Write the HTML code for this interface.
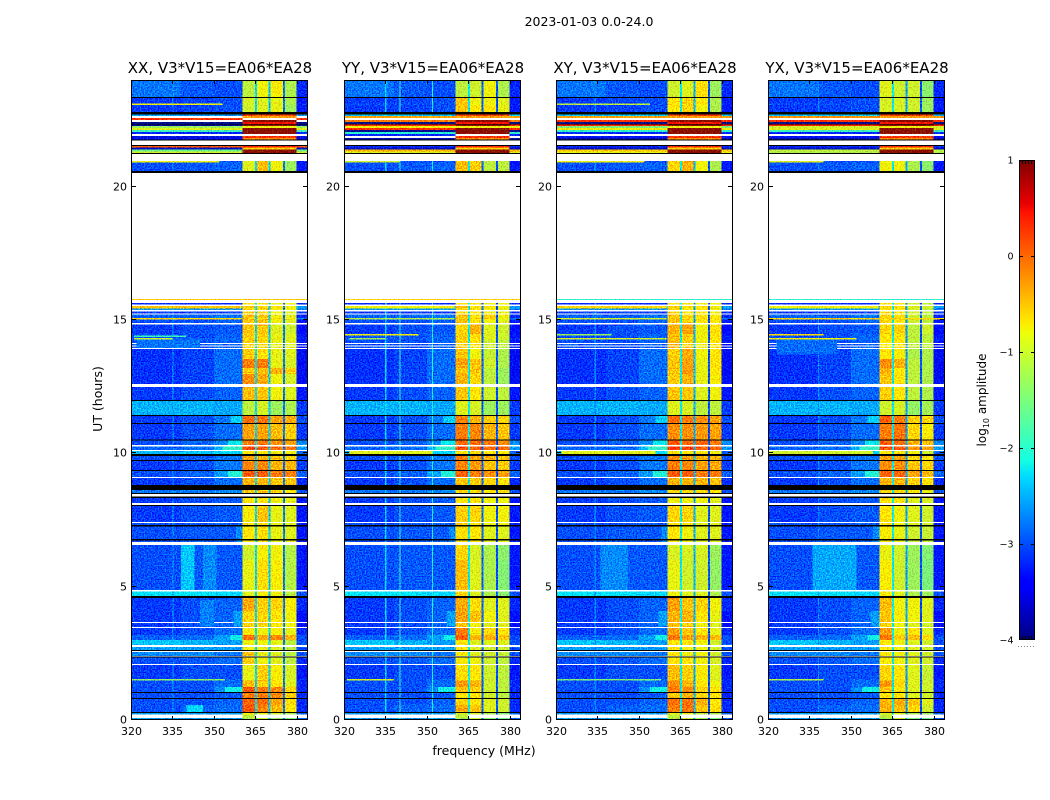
<!DOCTYPE html>
<html lang="en">
<head>
<meta charset="utf-8">
<title>2023-01-03 0.0-24.0</title>
<style>
html,body{margin:0;padding:0;background:#fff;width:1050px;height:800px;overflow:hidden}
svg{display:block;font-family:"DejaVu Sans","Liberation Sans",sans-serif;fill:#000}
</style>
</head>
<body>
<svg id="figure" xmlns="http://www.w3.org/2000/svg" width="1050" height="800" viewBox="0 0 1050 800">
  <defs>
    <filter id="speckle" filterUnits="userSpaceOnUse" x="0" y="0" width="1050" height="800" color-interpolation-filters="sRGB">
      <feTurbulence type="fractalNoise" baseFrequency="0.72" numOctaves="1" seed="4" result="n"/>
      <feColorMatrix in="n" type="matrix" values="0 0 0 0 0.5  3 0 0 0 -1  0 0 0 0 0.5  0 0 0 0 1" result="g"/>
      <feComposite in="SourceGraphic" in2="g" operator="arithmetic" k1="0" k2="1" k3="0.5" k4="-0.25" result="c"/>
      <feComposite in="c" in2="SourceAlpha" operator="in"/>
    </filter>
    <linearGradient id="jet" x1="0" y1="1" x2="0" y2="0">
      <stop offset="0" stop-color="rgb(0,0,127)"/>
      <stop offset="0.11" stop-color="rgb(0,0,255)"/>
      <stop offset="0.125" stop-color="rgb(0,0,255)"/>
      <stop offset="0.34" stop-color="rgb(0,219,255)"/>
      <stop offset="0.375" stop-color="rgb(21,255,226)"/>
      <stop offset="0.64" stop-color="rgb(238,255,8)"/>
      <stop offset="0.66" stop-color="rgb(255,236,0)"/>
      <stop offset="0.89" stop-color="rgb(255,19,0)"/>
      <stop offset="0.91" stop-color="rgb(232,0,0)"/>
      <stop offset="1" stop-color="rgb(127,0,0)"/>
    </linearGradient>
  </defs>
  <text x="589" y="26" font-size="12.5" text-anchor="middle">2023-01-03 0.0-24.0</text>
  <text x="484" y="755" font-size="12.5" text-anchor="middle">frequency (MHz)</text>
  <text transform="translate(102,399) rotate(-90)" font-size="12.5" text-anchor="middle">UT (hours)</text>
  <g id="panels"></g>
  <g id="colorbar">
    <rect x="1019" y="160" width="16" height="480" fill="url(#jet)"/>
  </g>
  <text transform="translate(986,400) rotate(-90)" font-size="12" text-anchor="middle">log<tspan font-size="8" dy="3">10</tspan><tspan dy="-3"> amplitude</tspan></text>
</svg>
<script>
// ---- shared axis values ----
const xTicks = [320, 335, 350, 365, 380];
const yTicks = [0, 5, 10, 15, 20];
const colorTicks = [1, 0, -1, -2, -3, -4];
const freqColumns = [320, 338, 350, 360.4];
const bandEdges = [[360.4, 364.8], [365.5, 369.8], [370.5, 374.9], [375.6, 379.9]];
const gapEdges = [[364.8, 365.5], [369.8, 370.5], [374.9, 375.6]];
const rightColumn = [379.9, 384];

// time rows [top hour, bottom hour]; anything not covered stays white (flagged)
const rowHours = [
[24,23.36],[23.36,23.12],[23.12,23.06],[23.06,22.8],[20.96,20.91],[20.91,20.59],
[15.79,15.75],[15.64,15.58],[15.53,15.43],[15.43,15.38],[15.31,15.24],[15.21,15.08],[15.08,15.02],[15.02,14.89],
[14.84,14.48],[14.48,14.42],[14.42,14.33],[14.33,14.27],[14.27,14.14],[14.1,14.04],[14,13.95],
[13.91,13.54],[13.54,13.2],[13.2,12.98],[12.98,12.6],[12.49,12],[12,11.44],[11.44,11.14],[11.14,10.5],
[10.5,10.31],[10.26,10.13],[10.09,9.98],[9.9,9.75],[9.75,9.38],[9.38,9.11],[9.08,8.81],[8.63,8.51],[8.36,8.14],
[8.03,7.43],[7.39,7.31],[7.28,6.68],[6.56,6],[6,4.88],[4.82,4.65],[4.58,4.09],[4.09,3.68],[3.64,3.49],[3.45,3.19],
[3.19,3],[3,2.81],[2.74,2.63],[2.55,2.4],[2.36,2.1],[2.06,1.54],[1.54,1.48],[1.48,1.24],[1.24,1.05],[1.05,0.83],
[0.83,0.56],[0.56,0.3],[0.3,0.21],[0.08,0]];

// background level per row: [320-338, 338-350, 350-360.4, 380-384 MHz]
const backgroundLevels = [
[-2.8,-2.95,-3,-3.2],[-3.1,-3.05,-3,-3.3],[-3,-3,-3,-3.2],[-3.1,-3.05,-3,-3.3],[-3,-3,-3,-3.3],[-3,-2.95,-2.9,-3.3],
[-2.2,-2.2,-2.2,-2.2],[-3.2,-3.2,-3.2,-3.2],[-2.5,-2.5,-2.5,-2.6],[-2.6,-2.6,-2.6,-2.8],[-3.1,-3.1,-3.1,-3.2],[-2.9,-2.9,-2.8,-3.2],[-2.6,-2.6,-2.6,-2.8],[-3,-3,-2.9,-3.3],
[-3.1,-3,-2.95,-3.4],[-3,-3,-2.9,-3.3],[-3,-3,-2.9,-3.3],[-2.9,-2.9,-2.85,-3.2],[-3,-3,-2.9,-3.3],[-3,-3,-2.9,-3.3],[-3,-3,-2.9,-3.3],
[-3.15,-3.05,-2.85,-3.5],[-3.15,-3.05,-2.85,-3.5],[-3.15,-3.05,-2.85,-3.5],[-3.15,-3.05,-2.85,-3.5],[-3.1,-3,-2.9,-3.3],[-2.5,-2.5,-2.55,-3.1],[-3.1,-3,-2.8,-3],[-3.1,-3,-2.85,-3.1],
[-3,-2.9,-2.7,-2.7],[-2.9,-2.85,-2.5,-2.6],[-2.5,-2.4,-2.3,-2.9],[-3,-2.95,-2.8,-3],[-3.1,-3,-2.8,-3.1],[-3,-2.9,-2.6,-2.9],[-3.1,-3,-2.85,-3.2],[-2.8,-2.8,-2.7,-3],[-3.1,-3,-2.95,-3.3],
[-3.1,-3,-2.95,-3.3],[-3,-3,-2.95,-3.3],[-3,-2.95,-2.95,-3.3],[-3,-2.95,-2.95,-3.3],[-3,-2.95,-2.95,-3.3],[-2.25,-2.25,-2.3,-3],[-3.1,-3,-2.9,-3.2],[-3.1,-3,-2.9,-3.4],[-3.1,-3,-2.9,-3.4],[-3.1,-3,-2.85,-3.2],
[-2.9,-2.85,-2.6,-3],[-2.4,-2.5,-2.6,-3],[-2.6,-2.6,-2.6,-3],[-2.7,-2.7,-2.8,-3],[-3,-2.95,-2.85,-3.2],[-3.1,-3,-3,-3.3],[-3,-3,-2.9,-3.2],[-3,-3,-2.85,-3.2],[-3,-3,-2.7,-3.2],[-3,-3,-2.95,-3.2],
[-3,-3,-2.9,-3.2],[-3,-2.9,-2.85,-3.2],[-2.6,-2.6,-2.6,-2.9],[-2.6,-2.6,-2.6,-2.9]];

// level of each of the four frequency bands, per row, per correlation
const xxBands = [
[-1.1,-.8,-.75,-1.2],[-.95,-.9,-.85,-1.2],[-.95,-.9,-.85,-1.2],[-1,-.9,-.85,-1.3],[-.9,-.5,-.8,-1.3],[-.9,-.45,-.8,-1.3],
[-.5,-.5,-.5,-.5],[-.7,-.7,-.8,-.8],[-.55,-.6,-.7,-.8],[-.6,-.6,-.8,-.8],[-.6,-.6,-.8,-.9],[-.5,-.5,-.8,-.9],[-.5,-.6,-.6,-.7],[-.5,-.5,-.8,-.9],
[-.5,-.5,-.9,-1],[-.55,-.6,-.85,-.9],[-.55,-.6,-.85,-.9],[-.55,-.6,-.85,-.9],[-.55,-.6,-.85,-.9],[-.55,-.6,-.85,-.9],[-.55,-.6,-.85,-.9],
[-.55,-.65,-.85,-.9],[-.1,-.1,-.85,-.95],[-.55,-.45,-.4,-.55],[-.2,-.35,-.8,-.95],[-.45,-.5,-.8,-.9],[-1.1,-.95,-1.3,-1.2],[0,-.05,-.3,-.35],[-.3,-.3,-.45,-.55],
[-.1,-.1,-.25,-.3],[.15,.1,-.05,-.05],[-.7,-.7,-.8,-.8],[-.3,-.4,-.5,-.6],[-.15,-.15,-.4,-.4],[.1,.05,-.1,-.15],[-.4,-.4,-.5,-.5],[-.5,-.5,-.6,-.7],[-.7,-.7,-.8,-.85],
[-.75,-.5,-.85,-.9],[-.7,-.7,-.85,-.9],[-.7,-.65,-.85,-.9],[-1,-.75,-.8,-1.15],[-.85,-.65,-.75,-1.15],[-.9,-.75,-.8,-1.1],[-.35,-.55,-.6,-.75],[-.6,-.6,-.7,-.8],[-.6,-.6,-.7,-.8],[-.75,-.8,-.75,-.85],
[-.05,-.35,-.15,-.4],[-.8,-.8,-.85,-1.1],[-.8,-.85,-.9,-1.1],[-.5,-.85,-.9,-1.1],[-.55,-.8,-.9,-1.1],[-.85,-.55,-.75,-.95],[-.85,-.55,-.75,-.95],[-.45,-.55,-.7,-.9],[.1,-.1,-.15,-.6],[-.1,-.1,-.2,-.55],
[.05,0,-.3,-.65],[.1,-.15,-.45,-.7],[-.7,-.8,-1,-1.2],[-1.2,-1,-1.3,-1.5]];
const yyBands = [
[-1.1,-1,-.8,-1.2],[-.5,-.8,-.8,-.9],[-.5,-.8,-.8,-.9],[-.5,-.7,-.7,-.85],[-.5,-.55,-1.1,-1.1],[-.45,-.55,-1.1,-1.1],
[-.5,-.5,-.5,-.5],[-.7,-.7,-.8,-.8],[-.5,-.7,-.7,-.8],[-.6,-.7,-.8,-.9],[-.6,-.7,-.8,-.8],[-.5,-.7,-.6,-.8],[-.5,-.6,-.6,-.8],[-.5,-.7,-.8,-.9],
[-.6,-.4,-.9,-1],[-.55,-.65,-.9,-1],[-.55,-.65,-.9,-1],[-.55,-.65,-.9,-1],[-.55,-.7,-1,-1.1],[-.55,-.7,-1,-1.1],[-.55,-.7,-1,-1.1],
[-.5,-.8,-1.05,-1.2],[-.3,-.5,-1,-1.2],[-.5,-.5,-1.1,-1.3],[-.4,-.6,-1.1,-1.3],[-.5,-.7,-1,-1.1],[-.9,-.95,-1.3,-1.3],[-.1,-.4,-.55,-.6],[-.1,-.15,-.4,-.5],
[0,0,-.1,-.2],[.15,.1,0,0],[-.7,-.6,-.7,-.7],[-.1,-.3,-.4,-.5],[-.15,-.25,-.5,-.55],[.05,-.1,-.2,-.3],[-.5,-.55,-.6,-.7],[-.6,-.6,-.7,-.7],[-.7,-.7,-.8,-.8],
[-.55,-.6,-.8,-.8],[-.6,-.7,-.8,-.8],[-.65,-.7,-.9,-.9],[-.6,-.95,-1.2,-1.4],[-.45,-.9,-1.2,-1.45],[-.6,-.9,-1.2,-1.4],[-.35,-.65,-.9,-.9],[-.3,-.5,-.8,-.9],[-.5,-.8,-.9,-.9],[-.1,-.75,-.6,-.7],
[.05,-.4,-.4,-.5],[-.7,-.9,-.9,-.9],[-.7,-.9,-1,-1],[-.75,-.9,-1,-1.05],[-.75,-.8,-1,-1.1],[-.65,-.7,-1,-1.1],[-.65,-.8,-1,-1.1],[-.25,-.4,-1,-1.1],[-.5,-.6,-1,-1.1],[-.7,-.7,-1,-1.1],
[-.6,-.7,-.9,-1],[-.35,-.5,-.9,-1],[-.9,-.9,-1.2,-1.4],[-1.3,-1,-1.4,-1.6]];
const xyBands = [
[-1,-.9,-.65,-1.3],[-.7,-.6,-.7,-1.2],[-.7,-.6,-.7,-1.2],[-.7,-.6,-.8,-1.2],[-.6,-.4,-.8,-1.2],[-.6,-.4,-.8,-1.2],
[-.8,-.8,-.8,-.8],[-.7,-.7,-.8,-.8],[-.55,-.65,-.7,-.8],[-.6,-.7,-.7,-.8],[-.6,-.7,-.7,-.8],[-.5,-.6,-.7,-.7],[-.5,-.6,-.7,-.7],[-.5,-.6,-.7,-.7],
[-.4,-.3,-.8,-.65],[-.45,-.55,-.8,-.7],[-.45,-.55,-.8,-.7],[-.45,-.55,-.8,-.7],[-.45,-.55,-.8,-.7],[-.45,-.55,-.8,-.7],[-.45,-.55,-.8,-.7],
[-.55,-.35,-.8,-.7],[-.5,-.3,-.85,-.7],[-.5,-.25,-.85,-.7],[-.55,-.4,-.85,-.75],[-.5,-.5,-.9,-.8],[-.9,-.95,-1.1,-1.1],[0,-.1,-.2,-.3],[-.2,-.2,-.25,-.3],
[.1,0,0,-.1],[.25,.2,.05,.05],[-.7,-.7,-.7,-.8],[-.2,-.3,-.4,-.4],[-.1,-.15,-.3,-.35],[.1,.05,-.1,-.1],[-.4,-.4,-.4,-.5],[-.6,-.6,-.6,-.7],[-.8,-.8,-.8,-.9],
[-.6,-.6,-.9,-.9],[-.7,-.7,-.9,-.9],[-.7,-.8,-.9,-.9],[-.95,-.95,-.95,-1.3],[-.85,-1,-1,-1.35],[-.8,-.9,-.9,-1.2],[-.3,-.5,-.6,-.8],[-.4,-.4,-.7,-.85],[-.5,-.6,-.8,-.9],[-.3,-.5,-.7,-.85],
[-.05,-.3,-.4,-.45],[-.7,-.7,-.8,-1],[-.7,-.8,-.8,-1],[-.7,-.8,-.8,-1],[-.7,-.7,-.8,-.95],[-.45,-.55,-.75,-.9],[-.5,-.6,-.8,-.95],[-.2,-.4,-.7,-.8],[-.1,-.2,-.6,-.7],[-.5,-.4,-.6,-.7],
[-.05,-.05,-.4,-.7],[-.1,-.05,-.5,-.65],[-.8,-.8,-1.1,-1.2],[-1.2,-1,-1.3,-1.5]];
const yxBands = [
[-.9,-1,-1,-1.4],[-.95,-.95,-1,-1.3],[-.95,-.95,-1,-1.3],[-.95,-.95,-1,-1.3],[-.8,-.8,-1.2,-1.4],[-.8,-.8,-1.2,-1.4],
[-.9,-.9,-.9,-.9],[-.7,-.7,-1,-1.1],[-.6,-.65,-.9,-1],[-.7,-.7,-1,-1.1],[-.7,-.7,-1,-1.1],[-.6,-.65,-1,-1.1],[-.5,-.6,-.9,-1],[-.6,-.7,-1,-1.1],
[-.6,-.55,-1.1,-1],[-.7,-.7,-1.1,-1.1],[-.7,-.7,-1.1,-1.1],[-.7,-.7,-1.1,-1.1],[-.7,-.7,-1.1,-1.1],[-.7,-.7,-1.1,-1.1],[-.7,-.7,-1.1,-1.1],
[-.7,-.75,-1.2,-1.2],[-.2,-.4,-1.1,-1.2],[-.4,-.7,-1.1,-1.2],[-.5,-.7,-1.1,-1.2],[-.55,-.7,-1.1,-1.2],[-1,-.95,-1.35,-1.25],[.05,-.1,-.55,-.6],[-.1,-.05,-.6,-.75],
[.05,0,-.4,-.5],[.1,.1,-.2,-.3],[-.7,-.7,-.8,-1],[-.3,-.3,-.6,-.7],[-.2,-.2,-.5,-.6],[.05,0,-.3,-.45],[-.4,-.4,-.6,-.7],[-.6,-.6,-.75,-.85],[-.7,-.7,-.9,-.95],
[-.7,-.8,-.9,-1],[-.7,-.8,-.9,-1],[-.75,-.85,-1,-1.05],[-.85,-1,-1.3,-1.45],[-.75,-1,-1.3,-1.5],[-.75,-.9,-1.2,-1.3],[-.45,-.8,-.8,-.9],[-.5,-.75,-.8,-.9],[-.6,-.8,-.9,-1],[-.3,-.8,-.7,-.9],
[-.1,-.55,-.45,-.65],[-.7,-.8,-.9,-1],[-.7,-.8,-.9,-1],[-.75,-.8,-.9,-1],[-.75,-.8,-.9,-1],[-.6,-.7,-.9,-1.05],[-.6,-.7,-.9,-1.05],[-.25,-.6,-.9,-1],[-.5,-.7,-.9,-1],[-.7,-.7,-.9,-1],
[-.4,-.35,-.5,-.9],[-.4,-.45,-.6,-1],[-.9,-.9,-1.2,-1.3],[-1.3,-1,-1.5,-1.6]];

// level in the three narrow notches between the bands
const xxGaps = [-2.3, -2.4, -2.8];
const yyGaps = [-2.2, -2.9, -3];
const xyGaps = [-2.2, -2.5, -3];
const yxGaps = [-2.2, -2.6, -3];

// saturated stripes between 21 and 23 h: [top hour, bottom hour]
const stripeHours = [[22.71,22.65],[22.65,22.58],[22.58,22.5],[22.5,22.43],[22.43,22.35],[22.35,22.28],[22.28,22.2],[22.2,22.13],[22.13,22.05],[22.05,21.98],[21.98,21.9],[21.9,21.83],[21.83,21.73],[21.54,21.47],[21.47,21.39],[21.39,21.32],[21.32,21.24]];
const stripeBandLevels = [.2,-.3,null,.95,.5,.95,-.8,.95,.95,.95,null,.3,-.2,.4,-.6,.95,.95];
const xxStripes = [-2.6,null,.3,null,-3.95,-3.9,-1.3,-.9,-1.9,-3.2,null,-3.6,-3.5,.1,-3.7,-1.6,-1];
const yyStripes = [-2.4,-.3,null,-.1,-3.95,.3,-.8,.3,-3.9,-2,-3.2,null,-3.8,-3.2,-3.7,-.4,-.9];
const xyStripes = [-2.4,-.3,null,.3,-3.95,.4,-1.5,-.8,-2,-3.2,null,-3.5,-3.8,-3.2,-3.7,-.5,-.85];
const yxStripes = [-2.4,-.2,null,.3,-3.95,.4,-1,-.9,-1.9,-3.2,null,-3.5,-3.8,-3.2,-3.7,-1.1,-1.2];

// edge fans next to the first band, shared: [top hour, bottom hour, start MHz, end MHz, level]
const fanFeatures = [[11.44,11.14,356,360.4,-2.35],[10.5,10.31,355,360.4,-2.2],[10.26,10.13,353,360.4,-1.95],[9.38,9.11,355,360.4,-2.05],[3.19,3,356,360.4,-2.15],[1.24,1.05,354,360.4,-2.15],[4.09,3.5,357,360.4,-2.6],[7.28,6.68,358,360.4,-2.7]];

// local features: [top hour, bottom hour, start MHz, end MHz, level]
const xxFeatures = [
[23.12,23.06,320,353,-.8],[20.96,20.91,320,352,-.8],[15.79,15.75,320,384,-.5],[15.53,15.43,320,360,-.5],[15.08,15.02,320,360,-.6],[14.42,14.36,321,340,-1.9],[14.33,14.27,321,335,-1],
[14.27,13.95,322,345,-2.8],[6.56,4.88,338,343,-2.4],[6.56,4.88,346,351,-2.7],[4.5,3.5,345,350,-2.75],[1.54,1.48,320,354,-1.4],[.56,.3,340,346,-2.3],[.21,.08,360.4,364.8,-1.1]];
const yyFeatures = [
[20.96,20.91,320,340,-1],[15.79,15.75,320,384,-.55],[15.53,15.43,320,360,-.8],[15.08,15.02,320,360,-1.2],[14.48,14.42,320,347,-.8],[14.33,14.27,322,335,-1.3],[10.09,9.98,322,352,-.9],[1.54,1.48,321,338,-1],[.21,.08,360.4,364.8,-1.1]];
const xyFeatures = [
[23.12,23.06,320,354,-1.1],[20.96,20.91,320,352,-.8],[15.79,15.75,320,384,-2],[15.53,15.43,320,360,-.6],[15.08,15.02,320,360,-1],[14.48,14.42,320,340,-1.3],[14.33,14.27,320,360,-1],[10.09,9.98,322,356,-.9],[6.56,4.88,336,346,-2.7],[1.54,1.48,320,358,-1.5],[.21,.08,360.4,364.8,-1.1]];
const yxFeatures = [
[15.79,15.75,320,384,-2],[15.53,15.43,320,360,-.8],[15.08,15.02,320,384,-.6],[14.48,14.42,320,340,-.6],[14.33,14.27,320,352,-.8],[14.27,13.7,323,345,-2.85],[20.96,20.91,320,340,-.9],[10.09,9.98,320,358,-1],[6.56,4.88,336,352,-2.55],[1.54,1.48,320,340,-1.2],[.21,.08,360.4,364.8,-1.1]];

// single hot channels seen through all rows: [MHz, level]
const xxChannels = [[335,-2.6]];
const yyChannels = [[334.9,-2.3],[340,-1.9],[351.8,-2.1]];
const xyChannels = [[334,-2.7]];
const yxChannels = [[338,-2.7]];

// fully flagged (black) integrations: [top hour, bottom hour]
const blackFlags = [[23.36,23.33],[22.8,22.71],[22.34,22.31],[21.77,21.73],[21.56,21.53],[21.26,21.23],[20.59,20.52],[12,11.96],[11.44,11.4],[11.14,11.1],[10.52,10.48],[9.98,9.9],[9.75,9.71],[9.38,9.34],[8.81,8.63],[8.51,8.48],[8.38,8.33],[8.06,8.03],[7.31,7.26],[6.79,6.73],[4.65,4.58],[2.63,2.59],[2.38,2.34],[1.05,1.01],[.83,.79],[.3,.26]];

const panelTitles = ['XX, V3*V15=EA06*EA28','YY, V3*V15=EA06*EA28','XY, V3*V15=EA06*EA28','YX, V3*V15=EA06*EA28'];
const panelKeys = ['xx','yy','xy','yx'];
const panelBands = [xxBands, yyBands, xyBands, yxBands];
const panelGaps = [xxGaps, yyGaps, xyGaps, yxGaps];
const panelStripes = [xxStripes, yyStripes, xyStripes, yxStripes];
const panelFeatures = [xxFeatures, yyFeatures, xyFeatures, yxFeatures];
const panelChannels = [xxChannels, yyChannels, xyChannels, yxChannels];

// ---- layout ----
const SVGNS = 'http://www.w3.org/2000/svg';
const axesLeft = [131, 344, 556, 768];
const axesWidth = 177, axesTop = 80, axesBottom = 720;
const hourScale = h => axesBottom - h * (axesBottom - axesTop) / 24;
const freqScale = (left, f) => left + (f - 320) * axesWidth / 64;
const colorScale = v => 640 - (v + 4) * 96;

const jetR = [[0,0],[.35,0],[.66,1],[.89,1],[1,.5]];
const jetG = [[0,0],[.125,0],[.375,1],[.64,1],[.91,0],[1,0]];
const jetB = [[0,.5],[.11,1],[.34,1],[.65,0],[1,0]];
function interp(k, t) {
  for (let i = 1; i < k.length; i++) {
    if (t <= k[i][0]) {
      return k[i-1][1] + (k[i][1] - k[i-1][1]) * (t - k[i-1][0]) / (k[i][0] - k[i-1][0]);
    }
  }
  return k[k.length-1][1];
}
function jet(v) {
  const t = Math.max(0, Math.min(1, (v + 4) / 5));
  return 'rgb(' + Math.round(interp(jetR,t)*255) + ',' + Math.round(interp(jetG,t)*255) + ',' + Math.round(interp(jetB,t)*255) + ')';
}
function cell(parent, name, left, f0, f1, h0, h1, color) {
  const el = document.createElementNS(SVGNS, 'rect');
  
  
  const x0 = freqScale(left, f0), x1 = freqScale(left, f1), y0 = hourScale(h0), y1 = hourScale(h1);
  el.setAttribute('x', x0.toFixed(2));
  el.setAttribute('y', y0.toFixed(2));
  el.setAttribute('width', (x1 - x0).toFixed(2));
  el.setAttribute('height', (y1 - y0).toFixed(2));
  el.setAttribute('fill', color);
  el.setAttribute('shape-rendering', 'crispEdges');
  parent.appendChild(el);
}
function line(parent, name, x1, y1, x2, y2) {
  const el = document.createElementNS(SVGNS, 'line');
  
  
  el.setAttribute('x1', x1);
  el.setAttribute('y1', y1);
  el.setAttribute('x2', x2);
  el.setAttribute('y2', y2);
  el.setAttribute('stroke', '#000');
  el.setAttribute('stroke-width', '1');
  parent.appendChild(el);
}
function label(parent, name, x, y, str, size, anchor) {
  const el = document.createElementNS(SVGNS, 'text');
  
  
  el.setAttribute('x', x);
  el.setAttribute('y', y);
  el.setAttribute('font-size', size);
  el.setAttribute('text-anchor', anchor);
  el.textContent = str;
  parent.appendChild(el);
}
function group(parent, name) {
  const el = document.createElementNS(SVGNS, 'g');
  
  
  parent.appendChild(el);
  return el;
}

const panelsRoot = document.getElementById('panels');
panelKeys.forEach((key, p) => {
  const left = axesLeft[p];
  const right = left + axesWidth;
  const g = group(panelsRoot, key + '-panel');
  const heat = group(g, key + '-heatmap');
  heat.setAttribute('filter', 'url(#speckle)');

  rowHours.forEach((row, r) => {
    const bg = backgroundLevels[r];
    const bands = panelBands[p][r];
    const [h0, h1] = row;
    cell(heat, key + '-cell', left, freqColumns[0], freqColumns[1], h0, h1, jet(bg[0]));
    cell(heat, key + '-cell', left, freqColumns[1], freqColumns[2], h0, h1, jet(bg[1]));
    cell(heat, key + '-cell', left, freqColumns[2], freqColumns[3], h0, h1, jet(bg[2]));
    cell(heat, key + '-cell', left, rightColumn[0], rightColumn[1], h0, h1, jet(bg[3]));
    bandEdges.forEach((e, b) => {
      cell(heat, key + '-band-cell', left, e[0], e[1], h0, h1, jet(bands[b]));
    });
    gapEdges.forEach((e, b) => {
      cell(heat, key + '-gap-cell', left, e[0], e[1], h0, h1, jet(panelGaps[p][b]));
    });
    panelChannels[p].forEach(c => {
      cell(heat, key + '-channel-cell', left, c[0], c[0] + 0.45, h0, h1, jet(c[1]));
    });
  });

  stripeHours.forEach((s, i) => {
    const lv = panelStripes[p][i];
    const bandLv = stripeBandLevels[i];
    if (lv !== null) {
      cell(heat, key + '-stripe-cell', left, 320, freqColumns[3], s[0], s[1], jet(lv));
      cell(heat, key + '-stripe-cell', left, rightColumn[0], rightColumn[1], s[0], s[1], jet(lv));
    }
    if (bandLv !== null) {
      cell(heat, key + '-stripe-band-cell', left, freqColumns[3], rightColumn[0], s[0], s[1], jet(bandLv));
    }
  });

  fanFeatures.forEach(f => {
    cell(heat, key + '-fan-cell', left, f[2], f[3], f[0], f[1], jet(f[4]));
  });
  panelFeatures[p].forEach(f => {
    cell(heat, key + '-feature-cell', left, f[2], f[3], f[0], f[1], jet(f[4]));
  });

  blackFlags.forEach(b => {
    cell(g, key + '-flag-line', left, 320, 384, b[0], b[1], '#000');
  });

  const frame = document.createElementNS(SVGNS, 'rect');
  
  
  frame.setAttribute('x', left + 0.5);
  frame.setAttribute('y', axesTop + 0.5);
  frame.setAttribute('width', axesWidth - 1);
  frame.setAttribute('height', axesBottom - axesTop - 1);
  frame.setAttribute('fill', 'none');
  frame.setAttribute('stroke', '#000');
  g.appendChild(frame);

  xTicks.forEach(t => {
    const x = Math.round(freqScale(left, t)) + 0.5;
    line(g, key + '-x-tick', x, axesBottom, x, axesBottom - 4);
    line(g, key + '-x-tick-top', x, axesTop, x, axesTop + 4);
    label(g, key + '-x-tick-label', x, axesBottom + 15, String(t), 11, 'middle');
  });
  yTicks.forEach(t => {
    const y = Math.round(hourScale(t)) - 0.5;
    line(g, key + '-y-tick', left, y, left + 5, y);
    line(g, key + '-y-tick-right', right, y, right - 5, y);
    label(g, key + '-y-tick-label', left - 4, y + 4, String(t), 11, 'end');
  });
  label(g, key + '-panel-title', left + axesWidth / 2 + 0.5, 73, panelTitles[p], 15, 'middle');
});

// ---- colorbar ----
const cbar = document.getElementById('colorbar');
const frameCb = document.createElementNS(SVGNS, 'rect');


frameCb.setAttribute('x', 1019.5);
frameCb.setAttribute('y', 160.5);
frameCb.setAttribute('width', 15);
frameCb.setAttribute('height', 479);
frameCb.setAttribute('fill', 'none');
frameCb.setAttribute('stroke', '#000');
cbar.appendChild(frameCb);
colorTicks.forEach(t => {
  const y = colorScale(t);
  if (t < 1 && t > -4) {
    line(cbar, 'colorbar-tick', 1019, y + 0.5, 1023, y + 0.5);
    line(cbar, 'colorbar-tick', 1031, y + 0.5, 1035, y + 0.5);
  }
  label(cbar, 'colorbar-tick-label', 1013.5, y + 3.5, t < 0 ? '\u2212' + Math.abs(t) : String(t), 9.5, 'end');
});
const minorOffsets = [1022, 1025, 1028, 1031];
minorOffsets.forEach(x => {
  line(cbar, 'colorbar-end-tick', x + 0.5, 160, x + 0.5, 164);
  line(cbar, 'colorbar-end-tick', x + 0.5, 636, x + 0.5, 640);
});
const dots = document.createElementNS(SVGNS, 'line');


dots.setAttribute('x1', 1018);
dots.setAttribute('y1', 646.5);
dots.setAttribute('x2', 1035);
dots.setAttribute('y2', 646.5);
dots.setAttribute('stroke', '#888');
dots.setAttribute('stroke-dasharray', '1 2');
cbar.appendChild(dots);
</script>
</body>
</html>
